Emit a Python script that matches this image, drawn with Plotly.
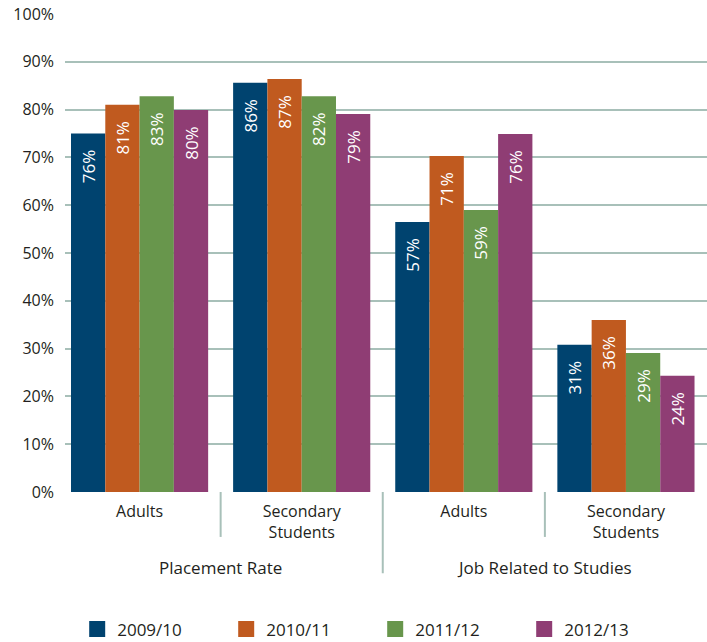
import plotly.graph_objects as go

groups = ["Adults", "Secondary<br>Students", "Adults", "Secondary<br>Students"]
outer_groups = ["Placement Rate", "Job Related to Studies"]
series = ["2009/10", "2010/11", "2011/12", "2012/13"]
colors = ["#00436f", "#c05a1f", "#68964c", "#8f3d74"]

# bar heights as drawn (%)
h_2009 = [75, 85.6, 56.5, 30.8]
h_2010 = [81, 86.4, 70.3, 36.0]
h_2011 = [82.8, 82.8, 59.0, 29.1]
h_2012 = [79.9, 79.1, 74.9, 24.3]
heights = [h_2009, h_2010, h_2011, h_2012]

# labels printed in the bars
l_2009 = ["76%", "86%", "57%", "31%"]
l_2010 = ["81%", "87%", "71%", "36%"]
l_2011 = ["83%", "82%", "59%", "29%"]
l_2012 = ["80%", "79%", "76%", "24%"]
labels = [l_2009, l_2010, l_2011, l_2012]

y_ticks = list(range(0, 101, 10))
y_ticktext = [f"{v}%" for v in y_ticks]

FONT = "Open Sans"
TXT = "#231f20"
GRID = "#a8c0b9"

x = list(range(len(groups)))
pad = "\u00a0" * 3

fig = go.Figure()
for name, col, h, lab in zip(series, colors, heights, labels):
    fig.add_trace(go.Bar(
        x=x, y=h, name=name, marker=dict(color=col, line=dict(width=0)),
        text=[t + pad for t in lab], textposition="inside", insidetextanchor="end",
        textangle=-90, textfont=dict(color="white", size=17, family=FONT),
        showlegend=False, hoverinfo="skip",
    ))
    fig.add_trace(go.Scatter(
        x=[None], y=[None], mode="markers", name=name,
        marker=dict(symbol="square", size=22, color=col), showlegend=True,
    ))

shapes = []
for xv, yb in [(0.5, -0.094), (1.5, -0.17), (2.5, -0.094)]:
    shapes.append(dict(type="line", xref="x", yref="paper", x0=xv, x1=xv,
                       y0=0, y1=yb, line=dict(color=GRID, width=2)))

annotations = []
for i, g in enumerate(outer_groups):
    annotations.append(dict(text=g, x=0.5 + 2 * i, xref="x", y=-0.157, yref="paper",
                            showarrow=False, yanchor="middle",
                            font=dict(size=17, family=FONT, color=TXT)))

fig.update_layout(
    width=707, height=642,
    margin=dict(l=65, r=0, t=14, b=150, autoexpand=False),
    paper_bgcolor="white", plot_bgcolor="white",
    barmode="group", bargap=0.154, bargroupgap=0,
    shapes=shapes, annotations=annotations,
    font=dict(family=FONT, color=TXT),
    legend=dict(orientation="h", x=0.019, xanchor="left", y=-0.25, yanchor="top",
                font=dict(size=17, family=FONT, color=TXT),
                entrywidth=104, entrywidthmode="pixels", itemsizing="trace",
                traceorder="normal", tracegroupgap=0),
    xaxis=dict(range=[-0.46, 3.5], tickvals=x, ticktext=groups, showgrid=False,
               zeroline=False, showline=False, ticks="", ticklabelstandoff=8,
               tickfont=dict(size=16, family=FONT, color=TXT), fixedrange=True),
    yaxis=dict(range=[0, 100], tickvals=y_ticks, ticktext=y_ticktext,
               showgrid=True, gridcolor=GRID, gridwidth=2, zeroline=False,
               showline=False, ticks="", ticklabelstandoff=10,
               ticklabeloverflow="allow",
               tickfont=dict(size=16, family=FONT, color=TXT), fixedrange=True),
)

fig.write_html("out.html", config={"displayModeBar": False},
               post_script="document.body.style.margin='0';")
